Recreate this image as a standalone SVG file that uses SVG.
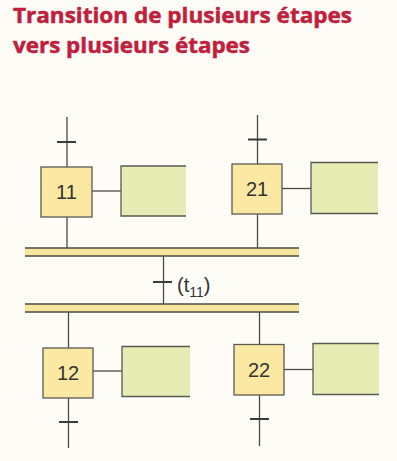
<svg xmlns="http://www.w3.org/2000/svg" width="397" height="461" viewBox="0 0 397 461">
<style>
.title{font-family:"Open Sans","Liberation Sans",sans-serif;font-weight:bold;font-size:22px;fill:#c1203c;stroke:#c1203c;stroke-width:0.5}
.step{fill:#fbe8a2;stroke:#5a5a55;stroke-width:1.3}
.act{fill:#e6ecb4;stroke:none}
.actb{fill:none;stroke:#5a5a55;stroke-width:1.3}
.ln{stroke:#4a4a48;stroke-width:1.3;fill:none}
.tk{stroke:#3a3a38;stroke-width:2;fill:none}
.lbl{font-family:"Liberation Sans",Arial,sans-serif;font-size:20px;fill:#333}
.bar{fill:#f6e59c}
.barl{stroke:#4a4a48;stroke-width:1.3}
</style>
<rect width="397" height="461" fill="#fdfcf7"/>
<text class="title" x="13" y="23" textLength="339" lengthAdjust="spacingAndGlyphs">Transition de plusieurs étapes</text>
<text class="title" x="13" y="53" textLength="237" lengthAdjust="spacingAndGlyphs">vers plusieurs étapes</text>

<g id="connectors">
  <line class="ln" x1="67" y1="117" x2="67" y2="167"/>
  <line class="tk" x1="57" y1="142" x2="76" y2="142"/>
  <line class="ln" x1="67" y1="217" x2="67" y2="248"/>
  <line class="ln" x1="92" y1="191" x2="121" y2="191"/>
  <line class="ln" x1="257.5" y1="115" x2="257.5" y2="164"/>
  <line class="tk" x1="248" y1="139.5" x2="267" y2="139.5"/>
  <line class="ln" x1="257.5" y1="214" x2="257.5" y2="248"/>
  <line class="ln" x1="282" y1="188.5" x2="311" y2="188.5"/>
  <line class="ln" x1="163.5" y1="256" x2="163.5" y2="304"/>
  <line class="tk" x1="153" y1="282" x2="172" y2="282"/>
  <line class="ln" x1="68.5" y1="312" x2="68.5" y2="348"/>
  <line class="ln" x1="68.5" y1="398" x2="68.5" y2="448"/>
  <line class="tk" x1="59" y1="422" x2="78" y2="422"/>
  <line class="ln" x1="93" y1="371" x2="122" y2="371"/>
  <line class="ln" x1="259.5" y1="312" x2="259.5" y2="344"/>
  <line class="ln" x1="259.5" y1="395" x2="259.5" y2="446"/>
  <line class="tk" x1="250" y1="419" x2="269" y2="419"/>
  <line class="ln" x1="284" y1="369.5" x2="313" y2="369.5"/>
</g>

<g id="sync-top">
  <rect class="bar" x="25" y="248" width="274" height="8"/>
  <line class="barl" x1="25" y1="248" x2="299" y2="248"/>
  <line class="barl" x1="25" y1="256" x2="299" y2="256"/>
</g>
<g id="sync-bottom">
  <rect class="bar" x="25" y="304" width="274" height="8"/>
  <line class="barl" x1="25" y1="304" x2="299" y2="304"/>
  <line class="barl" x1="25" y1="312" x2="299" y2="312"/>
</g>
<g id="t11-label">
  <text class="lbl" x="177" y="292">(t<tspan font-size="14" dy="5">11</tspan><tspan dy="-5">)</tspan></text>
</g>

<g id="step11">
  <rect class="step" x="41" y="167" width="51" height="50"/>
  <text class="lbl" x="66.5" y="199" text-anchor="middle">11</text>
</g>
<g id="action11">
  <rect class="act" x="121" y="166" width="65" height="50"/>
  <path class="actb" d="M186 166H121V216H186"/>
</g>
<g id="step21">
  <rect class="step" x="232" y="164" width="50" height="50"/>
  <text class="lbl" x="257" y="196" text-anchor="middle">21</text>
</g>
<g id="action21">
  <rect class="act" x="311" y="162.5" width="67" height="51"/>
  <path class="actb" d="M378 162.5H311V213.5H378"/>
</g>
<g id="step12">
  <rect class="step" x="43" y="348" width="50" height="50"/>
  <text class="lbl" x="68" y="380" text-anchor="middle">12</text>
</g>
<g id="action12">
  <rect class="act" x="122" y="346.5" width="68" height="50"/>
  <path class="actb" d="M190 346.5H122V396.5H190"/>
</g>
<g id="step22">
  <rect class="step" x="234" y="344.5" width="50" height="50.5"/>
  <text class="lbl" x="259" y="376.5" text-anchor="middle">22</text>
</g>
<g id="action22">
  <rect class="act" x="313" y="343.5" width="66" height="51"/>
  <path class="actb" d="M379 343.5H313V394.5H379"/>
</g>
</svg>
